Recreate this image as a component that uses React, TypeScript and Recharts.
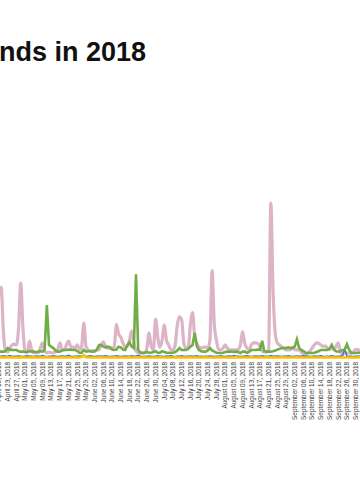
import React from 'react';
import { LineChart, Line, XAxis, YAxis } from 'recharts';

// one point per day, April 19 to October 2, 2018
const monthNames = [
  'January', 'February', 'March', 'April', 'May', 'June',
  'July', 'August', 'September', 'October', 'November', 'December',
];
const monthDays = [31, 28, 31, 30, 31, 30, 31, 31, 30, 31, 30, 31];

const dates: string[] = [];
{
  let m = 3;
  let d = 19;
  for (let k = 0; k < 167; k++) {
    dates.push(`${monthNames[m]} ${String(d).padStart(2, '0')}, 2018`);
    d++;
    if (d > monthDays[m]) {
      d = 1;
      m++;
    }
  }
}

const pink = [
  40, 46, 18, 5, 4.5, 7, 9, 9.5, 9, 20,
  48.7, 20, 5, 4, 11.5, 6, 4, 4, 4, 7,
  10.3, 5, 4, 4.5, 4, 4, 4.5, 6, 10.3, 6,
  6, 9, 11.5, 8, 7.7, 7, 9, 6, 8, 23,
  8, 5.8, 5, 5.5, 5, 5.8, 6, 9, 11, 8,
  7, 7, 7, 8, 22, 16, 14, 10, 7.7, 8,
  12, 18, 10.3, 5, 4, 3.8, 3.8, 4, 7, 16.7,
  8, 6, 25.6, 14, 7.7, 12, 21.8, 12, 9, 6,
  5.8, 9, 22, 27, 25, 10, 7, 7, 22, 29.7,
  14, 10, 7.7, 7, 7.5, 7.7, 7, 12, 56.6, 22,
  12, 6, 5.8, 7, 9, 7, 5.8, 5.8, 5.8, 5.8,
  6, 9, 17.5, 10, 7, 6, 9, 10.3, 10.3, 10,
  8, 5, 4.5, 4.5, 6, 100, 45, 16.7, 10.3, 9,
  7.7, 7, 5.8, 5.8, 6, 7.7, 6, 5.8, 5.8, 4.5,
  3, 2.5, 4, 5, 7, 9, 10.3, 10, 9, 8,
  8.5, 7, 6, 7.7, 6, 8, 10.3, 4.5, 3.5, 3.8,
  3.8, 3.8, 3.8, 4.5, 6, 6, 5,
];

const green = [
  4.7, 4.7, 4.7, 5, 7, 6, 5.8, 5.8, 5.8, 5,
  4.7, 4.7, 4.5, 4.7, 5, 4.7, 4.7, 4.5, 4.7, 5,
  4.7, 6, 34.6, 9, 7.9, 7, 5.5, 4.7, 4.7, 5.5,
  5.8, 5.8, 6, 6, 5.8, 5.8, 5, 4, 4, 5.8,
  4.7, 5, 5, 4.7, 5, 6, 9, 9, 7.9, 7.5,
  7.9, 7.5, 6, 5.8, 6, 7.9, 7.5, 6, 5.8, 9,
  10.7, 8, 7, 54.3, 6, 4, 4, 4, 4.5, 4,
  4, 4.5, 5, 4, 4, 5, 4.5, 4, 4, 4,
  4, 4.5, 5.5, 7, 5.8, 5.8, 5.8, 6.5, 7.9, 9,
  16.7, 8, 5.8, 5, 4.7, 4.7, 5.5, 7, 5.5, 4.7,
  4, 3.8, 3.8, 4, 4.5, 4.7, 4.7, 4.7, 4.5, 4.7,
  4.5, 3.8, 4.7, 4.7, 4, 4.5, 5.8, 5.8, 5.8, 6,
  6, 11.7, 5, 4.7, 4.7, 4.7, 5, 5.5, 6, 6.5,
  7, 7, 7, 7.5, 7, 7, 8, 12.6, 7, 5.8,
  5, 4, 3.8, 3.8, 3.8, 4, 4.5, 5, 5.8, 5.8,
  5.8, 5.8, 6.5, 9, 6, 5, 4.7, 5, 5.8, 6,
  9.5, 6, 4, 3.8, 3.8, 4, 4,
];

const blue = [
  1.8, 1.6, 2, 1.7, 1.8, 2.2, 1.6, 1.8, 1.7, 1.9,
  1.8, 1.6, 1.8, 2, 1.7, 1.8, 1.6, 1.9, 1.8, 1.7,
  2.2, 1.8, 1.6, 1.8, 1.7, 2, 1.8, 1.6, 1.8, 1.9,
  1.7, 1.8, 2.3, 1.8, 1.6, 1.8, 1.7, 1.9, 1.8, 1.6,
  1.8, 1.7, 2, 1.8, 1.6, 1.8, 1.9, 1.7, 1.8, 2.1,
  1.8, 1.6, 1.8, 1.7, 2, 1.8, 1.6, 1.8, 1.9, 1.7,
  1.8, 2, 1.7, 1.8, 2.4, 1.8, 1.6, 1.8, 1.7, 1.9,
  1.8, 1.6, 1.8, 2, 1.7, 1.8, 1.6, 1.9, 1.8, 2.2,
  1.8, 1.6, 1.8, 1.7, 2, 1.8, 1.6, 1.8, 1.9, 1.7,
  1.8, 2.1, 1.7, 1.8, 1.6, 1.8, 1.7, 1.9, 1.8, 1.6,
  1.8, 1.7, 2, 1.8, 1.6, 1.8, 1.9, 1.7, 2.2, 1.8,
  1.8, 1.6, 1.8, 1.7, 2, 1.8, 1.6, 1.8, 1.9, 1.7,
  1.8, 2, 1.7, 1.8, 1.6, 2.2, 1.8, 1.7, 1.9, 1.8,
  1.6, 1.8, 1.7, 2, 1.8, 1.6, 1.8, 1.9, 1.7, 1.8,
  2, 1.7, 1.8, 1.6, 1.8, 1.9, 1.7, 1.8, 2.1, 1.8,
  1.6, 1.8, 1.7, 2, 1.8, 1.6, 1.8, 1.9, 2.2, 6.5,
  1.5, 1.8, 1.7, 1.6, 1.8, 1.9, 1.8,
];

const yellow = [
  1, 1, 0.9, 1, 1.1, 1, 1, 0.9, 1, 1,
  1.1, 1, 1, 0.9, 1, 1, 1.1, 1, 1, 0.9,
  1, 1, 1.1, 1, 1, 0.9, 1, 1, 1, 1.1,
  1, 1, 0.9, 1, 1, 1.1, 1, 1, 1.2, 2.6,
  1.1, 1, 1, 0.9, 1, 1, 1.1, 1, 1, 1,
  0.9, 1, 1, 1.1, 1, 1, 0.9, 1, 1, 1,
  1.1, 1, 1, 1, 0.9, 1, 1, 1.1, 1, 1,
  1, 0.9, 1, 1, 1.1, 1, 1, 1, 0.9, 1,
  1, 1.1, 1, 1, 1, 0.9, 1, 1, 1.1, 1,
  1, 1, 0.9, 1, 1, 1.1, 1, 1, 1, 0.9,
  1, 1, 1.1, 1, 1, 1, 0.9, 1, 1, 1.1,
  1, 1, 1, 0.9, 1, 1, 1.1, 1, 1, 1,
  0.9, 1, 1, 1.1, 1, 1, 1, 0.9, 1, 1,
  1.1, 1, 1, 1, 0.9, 1, 1, 1.1, 1, 1,
  1, 0.9, 1, 1, 1.1, 1, 1, 1, 0.9, 1,
  1, 1.1, 1, 1, 1, 0.9, 1, 1, 1.1, 1,
  1, 1, 0.9, 1, 1, 1.1, 1,
];

const data = dates.map((date, i) => ({
  date,
  pink: pink[i],
  green: green[i],
  blue: blue[i],
  yellow: yellow[i],
}));

const DateTick = (props: any) => {
  const { x, y, payload } = props;
  return (
    <text
      transform={`translate(${x},${y}) rotate(-90)`}
      textAnchor="end"
      dy="0.35em"
      fontSize={6.4}
      fontFamily="'Liberation Sans', Arial, sans-serif"
      fill="#404040"
    >
      {payload.value}
    </text>
  );
};

export default function App() {
  return (
    <div
      style={{
        position: 'fixed',
        left: 0,
        top: 0,
        width: 360,
        height: 500,
        overflow: 'hidden',
        background: '#fff',
      }}
    >
      <div
        style={{
          position: 'absolute',
          left: -1,
          top: 39,
          fontFamily: "'Liberation Sans', Arial, sans-serif",
          fontWeight: 'bold',
          fontSize: 27,
          lineHeight: '27px',
          color: '#111',
          whiteSpace: 'nowrap',
        }}
      >
        nds in 2018
      </div>
      <div style={{ position: 'absolute', left: -1.2, top: 0 }}>
        <LineChart
          width={361}
          height={449}
          data={data}
          margin={{ top: 203, right: 0, bottom: 0, left: 0 }}
        >
          <XAxis
            dataKey="date"
            interval={3}
            height={90}
            tickLine={false}
            axisLine={false}
            tickSize={1}
            tickMargin={2}
            tick={<DateTick />}
          />
          <YAxis hide domain={[0, 100]} />
          <Line
            type="monotone"
            dataKey="pink"
            stroke="#dcb3c7"
            strokeWidth={3.2}
            dot={false}
            isAnimationActive={false}
          />
          <Line
            type="linear"
            dataKey="blue"
            stroke="#4472c4"
            strokeWidth={1.5}
            dot={false}
            isAnimationActive={false}
          />
          <Line
            type="linear"
            dataKey="yellow"
            stroke="#ffc000"
            strokeWidth={2.5}
            dot={false}
            isAnimationActive={false}
          />
          <Line
            type="linear"
            dataKey="green"
            stroke="#70ad47"
            strokeWidth={2.6}
            dot={false}
            isAnimationActive={false}
          />
        </LineChart>
      </div>
    </div>
  );
}
